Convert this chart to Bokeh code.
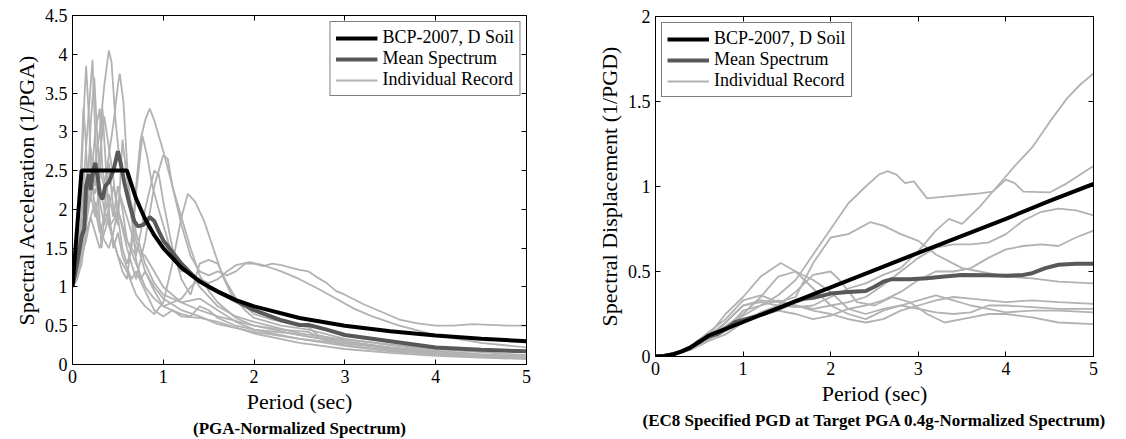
from bokeh.plotting import figure
from bokeh.layouts import row
from bokeh.models import (Range1d, LinearAxis, FixedTicker, CustomJSTickFormatter,
                          Legend, LegendItem, Title)
from bokeh.embed import file_html
from bokeh.resources import INLINE

# ---------------- data: left panel (PGA-normalized Sa) ----------------
x_ticks = [0, 1, 2, 3, 4, 5]
sa_ticks = [0, 0.5, 1, 1.5, 2, 2.5, 3, 3.5, 4, 4.5]
sd_ticks = [0, 0.5, 1, 1.5, 2]

sa_bcp_T = [0, 0.1, 0.6, 0.7, 0.8, 0.9, 1.0, 1.2, 1.4, 1.6, 1.8, 2.0, 2.5, 3.0, 3.5, 4.0, 4.5, 5.0]
sa_bcp_v = [1.0, 2.5, 2.5, 2.14, 1.875, 1.667, 1.5, 1.25, 1.07, 0.94, 0.83, 0.75, 0.6, 0.5, 0.43, 0.375, 0.333, 0.3]

sa_mean_T = [0, 0.05, 0.1, 0.13, 0.15, 0.18, 0.2, 0.22, 0.25, 0.28, 0.3, 0.33, 0.36, 0.4, 0.45, 0.5, 0.53, 0.57,
             0.62, 0.68, 0.72, 0.78, 0.85, 0.9, 0.95, 1.0, 1.1, 1.2, 1.35, 1.5, 1.7, 2.0, 2.3, 2.5, 2.6, 2.8,
             3.0, 3.5, 4.0, 4.5, 5.0]
sa_mean_v = [1.0, 1.3, 1.65, 1.75, 2.3, 2.45, 2.25, 2.45, 2.6, 2.4, 2.2, 2.13, 2.3, 2.35, 2.5, 2.75, 2.6, 2.35,
             2.1, 1.85, 1.78, 1.8, 1.9, 1.85, 1.72, 1.6, 1.45, 1.3, 1.12, 1.0, 0.88, 0.7, 0.57, 0.51, 0.51, 0.45,
             0.38, 0.3, 0.22, 0.19, 0.17]

sa_rec01 = [(0, 1), (0.05, 1.3), (0.1, 1.6), (0.15, 2.2), (0.2, 2.1), (0.25, 2.6), (0.3, 3.0), (0.35, 3.6), (0.4, 4.05),
            (0.43, 3.9), (0.47, 3.2), (0.52, 2.6), (0.6, 2.2), (0.7, 1.6), (0.8, 1.2), (0.9, 0.95), (1.0, 0.75),
            (1.1, 0.7), (1.2, 0.62), (1.4, 0.6), (1.6, 0.55), (2.0, 0.4), (2.5, 0.28), (3.0, 0.2), (3.5, 0.15),
            (4, 0.11), (4.5, 0.09), (5, 0.07)]
sa_rec02 = [(0, 1), (0.05, 1.2), (0.1, 2.0), (0.15, 2.8), (0.2, 3.6), (0.22, 3.93), (0.25, 3.0), (0.28, 2.2),
            (0.32, 1.5), (0.36, 2.1), (0.4, 2.6), (0.45, 2.0), (0.5, 1.8), (0.55, 2.9), (0.6, 2.4), (0.7, 1.7),
            (0.8, 1.3), (0.9, 1.05), (1.0, 0.9), (1.2, 0.8), (1.4, 0.85), (1.6, 0.7), (1.8, 0.55), (2.0, 0.45),
            (2.5, 0.33), (3, 0.24), (3.5, 0.17), (4, 0.13), (4.5, 0.1), (5, 0.08)]
sa_rec03 = [(0, 1), (0.05, 1.6), (0.1, 2.5), (0.13, 3.4), (0.15, 3.85), (0.18, 3.2), (0.21, 2.4), (0.25, 3.0),
            (0.3, 3.3), (0.33, 2.5), (0.38, 2.2), (0.42, 1.8), (0.47, 1.9), (0.52, 2.2), (0.6, 1.9), (0.7, 1.5),
            (0.8, 1.4), (0.9, 1.2), (1.0, 1.0), (1.2, 0.8), (1.4, 0.7), (1.6, 0.62), (2.0, 0.5), (2.5, 0.38),
            (3, 0.28), (3.5, 0.2), (4, 0.15), (4.5, 0.12), (5, 0.1)]
sa_rec04 = [(0, 1), (0.05, 1.3), (0.1, 1.8), (0.15, 2.0), (0.2, 2.4), (0.25, 2.2), (0.3, 2.5), (0.35, 2.3),
            (0.4, 2.7), (0.45, 3.1), (0.5, 3.6), (0.52, 3.75), (0.56, 3.4), (0.6, 2.6), (0.65, 1.9), (0.7, 1.35),
            (0.75, 1.1), (0.8, 1.2), (0.9, 1.0), (1.0, 0.85), (1.2, 0.7), (1.4, 0.62), (1.6, 0.52), (2.0, 0.42),
            (2.5, 0.33), (3, 0.27), (3.5, 0.22), (4, 0.17), (4.5, 0.13), (5, 0.1)]
sa_rec05 = [(0, 1), (0.05, 1.2), (0.1, 1.5), (0.15, 1.8), (0.2, 2.2), (0.25, 1.9), (0.3, 2.3), (0.35, 2.0),
            (0.4, 1.8), (0.45, 1.6), (0.5, 1.4), (0.55, 1.2), (0.6, 1.1), (0.65, 1.6), (0.7, 2.3), (0.75, 2.9),
            (0.8, 3.15), (0.85, 3.3), (0.9, 3.15), (0.95, 2.95), (1.0, 2.75), (1.1, 2.3), (1.2, 1.9), (1.3, 1.5),
            (1.4, 1.15), (1.5, 0.95), (1.6, 0.8), (1.8, 0.6), (2.0, 0.5), (2.3, 0.45), (2.6, 0.42), (2.8, 0.3),
            (3, 0.25), (3.5, 0.18), (4, 0.13), (4.5, 0.1), (5, 0.08)]
sa_rec06 = [(0, 1), (0.05, 1.4), (0.1, 1.9), (0.15, 2.4), (0.2, 2.8), (0.25, 2.3), (0.3, 2.7), (0.35, 3.2),
            (0.4, 2.8), (0.45, 2.4), (0.5, 1.9), (0.55, 1.5), (0.6, 1.3), (0.65, 1.5), (0.7, 2.2), (0.77, 2.95),
            (0.82, 2.7), (0.88, 2.3), (0.95, 2.0), (1.0, 1.8), (1.1, 1.4), (1.2, 1.2), (1.3, 1.2), (1.4, 1.0),
            (1.6, 0.75), (1.8, 0.62), (2.0, 0.55), (2.5, 0.4), (3, 0.32), (3.5, 0.26), (4, 0.2), (4.5, 0.16),
            (5, 0.12)]
sa_rec07 = [(0, 1), (0.05, 1.1), (0.1, 1.3), (0.15, 1.7), (0.2, 1.9), (0.25, 2.1), (0.3, 1.8), (0.35, 1.6),
            (0.4, 1.5), (0.45, 1.7), (0.5, 2.0), (0.6, 1.5), (0.7, 1.1), (0.8, 1.6), (0.9, 2.3), (1.0, 2.7),
            (1.05, 2.65), (1.1, 2.3), (1.2, 1.8), (1.3, 1.4), (1.4, 1.2), (1.5, 1.15), (1.6, 1.2), (1.7, 1.15),
            (1.8, 1.2), (1.9, 1.3), (2.0, 1.3), (2.1, 1.27), (2.2, 1.3), (2.3, 1.28), (2.4, 1.25), (2.5, 1.22),
            (2.6, 1.2), (2.7, 1.12), (2.8, 1.05), (2.9, 0.95), (3.0, 0.9), (3.2, 0.78), (3.4, 0.68), (3.6, 0.58),
            (3.8, 0.53), (4.0, 0.5), (4.2, 0.5), (4.4, 0.52), (4.6, 0.51), (4.8, 0.5), (5.0, 0.5)]
sa_rec08 = [(0, 1), (0.05, 1.2), (0.1, 1.5), (0.15, 1.9), (0.2, 2.2), (0.25, 2.5), (0.3, 2.1), (0.35, 1.8),
            (0.4, 2.0), (0.45, 2.3), (0.5, 2.0), (0.6, 1.6), (0.7, 1.3), (0.8, 1.0), (0.9, 0.85), (1.0, 0.75),
            (1.1, 0.8), (1.2, 0.85), (1.3, 1.0), (1.4, 1.1), (1.5, 1.05), (1.6, 1.1), (1.7, 1.2), (1.8, 1.28),
            (1.95, 1.32), (2.1, 1.28), (2.3, 1.2), (2.5, 1.1), (2.7, 0.98), (2.9, 0.85), (3.1, 0.72), (3.3, 0.62),
            (3.6, 0.5), (4.0, 0.38), (4.5, 0.28), (5, 0.22)]
sa_rec09 = [(0, 1), (0.05, 1.15), (0.1, 1.4), (0.15, 1.6), (0.2, 1.9), (0.25, 1.7), (0.3, 1.5), (0.35, 1.7),
            (0.4, 1.9), (0.45, 1.6), (0.5, 1.4), (0.6, 1.2), (0.7, 0.9), (0.8, 0.75), (0.9, 0.65), (1.0, 0.8),
            (1.1, 1.3), (1.2, 1.9), (1.27, 2.2), (1.35, 2.1), (1.45, 1.85), (1.55, 1.5), (1.65, 1.15), (1.75, 0.9),
            (1.9, 0.7), (2.0, 0.6), (2.3, 0.5), (2.6, 0.45), (3, 0.33), (3.5, 0.25), (4, 0.18), (4.5, 0.13),
            (5, 0.1)]
sa_rec10 = [(0, 1), (0.05, 1.1), (0.1, 1.4), (0.15, 1.9), (0.2, 2.5), (0.25, 2.0), (0.3, 1.7), (0.35, 1.9),
            (0.4, 2.2), (0.45, 1.9), (0.5, 2.3), (0.55, 2.0), (0.6, 1.6), (0.7, 1.4), (0.8, 2.0), (0.9, 2.5),
            (0.95, 2.45), (1.0, 2.1), (1.1, 1.5), (1.2, 1.1), (1.3, 0.9), (1.4, 1.3), (1.5, 1.35), (1.6, 1.3),
            (1.7, 1.05), (1.8, 0.85), (2.0, 0.65), (2.2, 0.58), (2.5, 0.5), (2.6, 0.48), (2.7, 0.38), (3, 0.3),
            (3.5, 0.22), (4, 0.16), (4.5, 0.12), (5, 0.09)]
sa_rec11 = [(0, 1), (0.05, 1.5), (0.1, 2.7), (0.12, 3.3), (0.14, 3.0), (0.17, 2.3), (0.2, 3.1), (0.24, 3.7),
            (0.27, 3.0), (0.3, 2.4), (0.33, 3.3), (0.36, 2.7), (0.4, 1.9), (0.45, 1.5), (0.5, 1.7), (0.55, 1.4),
            (0.6, 1.25), (0.65, 1.1), (0.7, 1.2), (0.8, 0.95), (0.9, 0.7), (1.0, 0.62), (1.1, 0.7), (1.2, 0.65),
            (1.3, 0.62), (1.4, 0.75), (1.5, 0.7), (1.6, 0.6), (1.8, 0.5), (2.0, 0.45), (2.4, 0.4), (2.6, 0.36),
            (3, 0.3), (3.5, 0.2), (4, 0.15), (4.5, 0.11), (5, 0.08)]

# ---------------- data: right panel (PGD-normalized Sd) ----------------
sd_bcp_T = [0, 0.1, 0.2, 0.3, 0.4, 0.5, 0.6, 0.8, 1.0, 1.5, 2.0, 2.5, 3.0, 3.5, 4.0, 4.5, 5.0]
sd_bcp_v = [0, 0.003, 0.013, 0.03, 0.054, 0.085, 0.122, 0.163, 0.203, 0.305, 0.406, 0.508, 0.61, 0.71, 0.81,
            0.915, 1.015]

sd_mean_T = [0, 0.1, 0.2, 0.3, 0.4, 0.5, 0.6, 0.7, 0.8, 0.9, 1.0, 1.2, 1.4, 1.6, 1.7, 1.8, 2.0, 2.2, 2.4, 2.5,
             2.6, 2.7, 2.9, 3.1, 3.3, 3.5, 3.8, 4.0, 4.2, 4.3, 4.45, 4.6, 4.8, 5.0]
sd_mean_v = [0, 0.003, 0.012, 0.03, 0.05, 0.09, 0.115, 0.13, 0.16, 0.2, 0.215, 0.245, 0.28, 0.325, 0.34, 0.345,
             0.37, 0.38, 0.385, 0.41, 0.44, 0.455, 0.455, 0.46, 0.47, 0.48, 0.478, 0.475, 0.48, 0.49, 0.52, 0.54,
             0.545, 0.545]

sd_rec01 = [(0, 0), (0.2, 0.01), (0.4, 0.04), (0.6, 0.09), (0.8, 0.13), (1.0, 0.2), (1.2, 0.26), (1.4, 0.3),
            (1.6, 0.29), (1.8, 0.3), (2.0, 0.35), (2.2, 0.4), (2.4, 0.43), (2.6, 0.48), (2.8, 0.52), (3.0, 0.62),
            (3.2, 0.74), (3.35, 0.81), (3.5, 0.78), (3.7, 0.88), (3.9, 1.0), (4.1, 1.12), (4.3, 1.23), (4.5, 1.38),
            (4.7, 1.52), (4.85, 1.6), (5.0, 1.665)]
sd_rec02 = [(0, 0), (0.2, 0.01), (0.4, 0.05), (0.6, 0.1), (0.8, 0.16), (1.0, 0.27), (1.2, 0.3), (1.4, 0.36),
            (1.6, 0.45), (1.8, 0.6), (2.0, 0.75), (2.2, 0.9), (2.4, 1.0), (2.55, 1.07), (2.65, 1.09), (2.75, 1.07),
            (2.85, 1.02), (2.95, 1.03), (3.1, 0.93), (3.3, 0.94), (3.5, 0.95), (3.7, 0.96), (3.85, 0.97),
            (4.0, 1.04), (4.1, 1.02), (4.2, 0.97), (4.5, 0.965), (4.7, 1.02), (5, 1.12)]
sd_rec03 = [(0, 0), (0.2, 0.01), (0.4, 0.04), (0.6, 0.1), (0.8, 0.17), (1.0, 0.24), (1.2, 0.3), (1.4, 0.33),
            (1.6, 0.3), (1.8, 0.28), (2.0, 0.3), (2.2, 0.32), (2.4, 0.35), (2.6, 0.42), (2.8, 0.5), (3.0, 0.58),
            (3.2, 0.64), (3.4, 0.66), (3.6, 0.66), (3.8, 0.67), (4.0, 0.72), (4.2, 0.8), (4.4, 0.85), (4.6, 0.87),
            (4.8, 0.86), (5, 0.83)]
sd_rec04 = [(0, 0), (0.2, 0.01), (0.4, 0.05), (0.6, 0.11), (0.8, 0.15), (1.0, 0.2), (1.2, 0.24), (1.4, 0.27),
            (1.6, 0.25), (1.8, 0.22), (2.0, 0.24), (2.2, 0.28), (2.4, 0.3), (2.6, 0.33), (2.8, 0.38), (3.0, 0.45),
            (3.2, 0.5), (3.4, 0.5), (3.6, 0.52), (3.8, 0.58), (4.0, 0.63), (4.2, 0.65), (4.4, 0.66), (4.6, 0.65),
            (4.8, 0.7), (5, 0.74)]
sd_rec05 = [(0, 0), (0.2, 0.01), (0.4, 0.05), (0.6, 0.12), (0.8, 0.2), (1.0, 0.3), (1.2, 0.33), (1.4, 0.32),
            (1.6, 0.35), (1.8, 0.55), (2.0, 0.7), (2.2, 0.72), (2.45, 0.79), (2.6, 0.77), (2.8, 0.72), (3.0, 0.68),
            (3.2, 0.6), (3.5, 0.52), (3.7, 0.5), (4.0, 0.47), (4.3, 0.46), (4.6, 0.44), (5, 0.43)]
sd_rec06 = [(0, 0), (0.2, 0.01), (0.4, 0.06), (0.6, 0.14), (0.8, 0.22), (1.0, 0.33), (1.2, 0.36), (1.4, 0.32),
            (1.6, 0.3), (1.8, 0.27), (2.0, 0.25), (2.2, 0.22), (2.4, 0.2), (2.6, 0.22), (2.8, 0.27), (3.0, 0.3),
            (3.2, 0.33), (3.4, 0.35), (3.6, 0.34), (3.8, 0.33), (4.0, 0.32), (4.3, 0.33), (4.6, 0.32), (5, 0.31)]
sd_rec07 = [(0, 0), (0.2, 0.02), (0.4, 0.05), (0.6, 0.1), (0.8, 0.18), (1.0, 0.25), (1.2, 0.35), (1.4, 0.47),
            (1.6, 0.5), (1.8, 0.45), (2.0, 0.38), (2.2, 0.28), (2.4, 0.25), (2.6, 0.28), (2.8, 0.3), (3.0, 0.28),
            (3.2, 0.26), (3.4, 0.25), (3.6, 0.26), (3.8, 0.3), (4.0, 0.3), (4.3, 0.29), (4.6, 0.28), (5, 0.28)]
sd_rec08 = [(0, 0), (0.2, 0.01), (0.4, 0.05), (0.6, 0.12), (0.8, 0.25), (1.0, 0.35), (1.2, 0.47), (1.43, 0.55),
            (1.6, 0.5), (1.8, 0.4), (2.0, 0.3), (2.2, 0.25), (2.4, 0.22), (2.6, 0.27), (2.8, 0.3), (3.0, 0.33),
            (3.2, 0.36), (3.4, 0.33), (3.6, 0.3), (3.8, 0.28), (4.0, 0.26), (4.3, 0.27), (4.6, 0.27), (5, 0.26)]
sd_rec09 = [(0, 0), (0.2, 0.01), (0.4, 0.04), (0.6, 0.09), (0.8, 0.2), (1.0, 0.3), (1.2, 0.32), (1.4, 0.3),
            (1.6, 0.38), (1.8, 0.48), (2.0, 0.5), (2.1, 0.45), (2.3, 0.32), (2.5, 0.3), (2.7, 0.35), (2.9, 0.32),
            (3.1, 0.25), (3.3, 0.2), (3.5, 0.22), (3.8, 0.25), (4.0, 0.25), (4.3, 0.23), (4.6, 0.2), (5, 0.19)]

sa_records = [sa_rec01, sa_rec02, sa_rec03, sa_rec04, sa_rec05, sa_rec06, sa_rec07, sa_rec08, sa_rec09,
              sa_rec10, sa_rec11]
sd_records = [sd_rec01, sd_rec02, sd_rec03, sd_rec04, sd_rec05, sd_rec06, sd_rec07, sd_rec08, sd_rec09]

FONT = "Liberation Serif"
C_BCP = "#000000"
C_MEAN = "#585858"
C_IND = "#b2b2b2"


def style(p, xt, yt):
    p.xgrid.visible = False
    p.ygrid.visible = False
    p.outline_line_color = "black"
    p.outline_line_width = 1
    for ax, ticks in ((p.xaxis[0], xt), (p.yaxis[0], yt)):
        ax.ticker = FixedTicker(ticks=ticks)
        ax.formatter = CustomJSTickFormatter(code="return tick.toString();")
        ax.major_tick_in = 5
        ax.major_tick_out = 0
        ax.minor_tick_line_color = None
        ax.axis_line_color = "black"
        ax.major_tick_line_color = "black"
        ax.major_label_text_font = FONT
        ax.major_label_text_font_size = "18px"
        ax.major_label_text_color = "black"
        ax.major_label_standoff = 5
        ax.axis_label_text_font = FONT
        ax.axis_label_text_font_size = "22px"
        ax.axis_label_text_font_style = "normal"
        ax.axis_label_text_color = "black"
        ax.axis_label_standoff = 3
    blank = CustomJSTickFormatter(code="return '';")
    top = LinearAxis(ticker=FixedTicker(ticks=xt), formatter=blank, major_tick_in=5, major_tick_out=0,
                     minor_tick_line_color=None, axis_line_color="black", major_label_standoff=0,
                     major_label_text_font_size="1px")
    right = LinearAxis(ticker=FixedTicker(ticks=yt), formatter=blank, major_tick_in=5, major_tick_out=0,
                       minor_tick_line_color=None, axis_line_color="black", major_label_standoff=0,
                       major_label_text_font_size="1px")
    p.add_layout(top, "above")
    p.add_layout(right, "right")


def panel(width, bl, br, bt, bb, ymax, yt, ylabel, subtitle, records, mT, mV, bT, bV, loc):
    p = figure(width=width, height=439, x_range=Range1d(0, 5), y_range=Range1d(0, ymax),
               output_backend="svg", toolbar_location=None,
               min_border_left=bl, min_border_right=br, min_border_top=bt, min_border_bottom=bb,
               x_axis_label="Period (sec)", y_axis_label=ylabel)
    try:
        p.frame_align = False
    except Exception:
        pass
    style(p, x_ticks, yt)
    ind = []
    for rec in records:
        r = p.line([t for t, v in rec], [v for t, v in rec], line_color=C_IND, line_width=1.8)
        ind.append(r)
    rm = p.line(mT, mV, line_color=C_MEAN, line_width=4)
    rb = p.line(bT, bV, line_color=C_BCP, line_width=4)
    leg = Legend(items=[LegendItem(label="BCP-2007, D Soil", renderers=[rb]),
                        LegendItem(label="Mean Spectrum", renderers=[rm]),
                        LegendItem(label="Individual Record", renderers=[ind[0]])],
                 location=loc)
    leg.border_line_color = "black"
    leg.border_line_width = 1.5
    leg.background_fill_color = "white"
    leg.background_fill_alpha = 1
    leg.label_text_font = FONT
    leg.label_text_font_size = "18px"
    leg.label_text_color = "black"
    leg.glyph_width = 42
    leg.glyph_height = 18
    leg.label_height = 18
    leg.spacing = 0
    leg.padding = 5
    leg.margin = 6
    leg.label_standoff = 5
    p.add_layout(leg)
    p.add_layout(Title(text=subtitle, align="center", text_font=FONT, text_font_size="17px",
                       text_font_style="bold", text_color="black", standoff=1, text_line_height=1.0),
                 "below")
    return p


p1 = panel(560, 72, 34, 15, 75, 4.5, sa_ticks, "Spectral Acceleration (1/PGA)", "(PGA-Normalized Spectrum)",
           sa_records, sa_mean_T, sa_mean_v, sa_bcp_T, sa_bcp_v, "top_right")
p2 = panel(566, 95, 33, 16, 83, 2, sd_ticks, "Spectral Displacement (1/PGD)",
           "(EC8 Specified PGD at Target PGA 0.4g-Normalized Spectrum)",
           sd_records, sd_mean_T, sd_mean_v, sd_bcp_T, sd_bcp_v, "top_left")

layout = row(p1, p2)
open("out.html", "w").write(file_html(layout, INLINE))
